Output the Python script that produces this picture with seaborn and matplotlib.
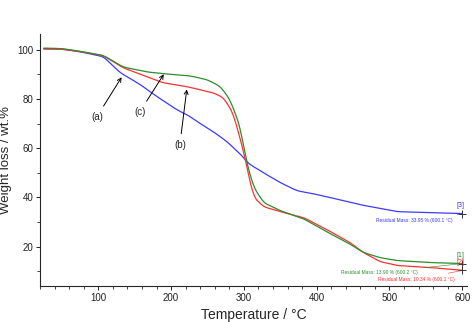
import numpy as np
import pandas as pd
import matplotlib.pyplot as plt
import seaborn as sns
from matplotlib.ticker import MultipleLocator

# TGA curves
temp_a = [25, 50, 75, 107, 130, 158, 167, 181, 208, 222, 236, 258, 277, 299, 305, 327,
          350, 373, 395, 419, 460, 511, 556, 600]
mass_a = [100.5, 100.3, 99.2, 97.2, 90.7, 85.8, 83.8, 80.9, 75.6, 73.6, 70.8, 66.7, 62.6,
          56.5, 54.0, 50.0, 46.0, 42.7, 41.5, 39.9, 37.0, 34.2, 33.8, 33.4]

temp_b = [25, 50, 75, 107, 134, 167, 189, 222, 258, 272, 285, 299, 313, 327, 350, 382,
          414, 446, 464, 487, 511, 533, 556, 600]
mass_b = [100.3, 100.2, 99.3, 97.6, 92.7, 89.0, 86.6, 85.0, 82.5, 80.5, 74.4, 59.4, 40.3,
          36.2, 34.2, 31.8, 26.9, 21.6, 17.6, 13.9, 12.3, 11.9, 11.5, 10.3]

temp_c = [25, 50, 75, 107, 134, 167, 189, 226, 250, 268, 281, 295, 302, 313, 327, 350,
          382, 414, 446, 464, 487, 511, 556, 600]
mass_c = [100.7, 100.5, 99.4, 97.7, 93.0, 91.0, 90.3, 89.4, 87.8, 85.0, 79.7, 68.7, 56.5,
          44.4, 37.9, 34.6, 31.3, 26.0, 21.0, 17.6, 15.5, 14.3, 13.5, 13.1]

residual_labels = ["Residual Mass: 33.95 % (600.1 °C)",
                   "Residual Mass: 13.90 % (600.2 °C)",
                   "Residual Mass: 10.34 % (600.1 °C)"]

df = pd.concat([
    pd.DataFrame({"T": temp_a, "W": mass_a, "sample": "a"}),
    pd.DataFrame({"T": temp_b, "W": mass_b, "sample": "b"}),
    pd.DataFrame({"T": temp_c, "W": mass_c, "sample": "c"}),
])

# smooth the read points a little so the curves look like instrument traces
rows = []
for s, g in df.groupby("sample"):
    t = np.linspace(g["T"].min(), g["T"].max(), 600)
    rows.append(pd.DataFrame({"T": t, "W": np.interp(t, g["T"], g["W"]), "sample": s}))
smooth = pd.concat(rows)
smooth["W"] = smooth.groupby("sample")["W"].transform(
    lambda w: w.rolling(11, center=True, min_periods=1).mean())

sns.set_style("ticks")
plt.rcParams["font.family"] = ["Liberation Sans", "DejaVu Sans"]

fig = plt.figure(figsize=(4.72, 3.22), dpi=100)
ax = fig.add_axes([0.085, 0.112, 0.905, 0.783])

palette = {"a": "#3b3bff", "b": "#ff3030", "c": "#2e8b2e"}
sns.lineplot(data=smooth, x="T", y="W", hue="sample", palette=palette,
             linewidth=0.9, legend=False, ax=ax, sort=False)

ax.set_xlim(20, 607)
ax.set_ylim(4, 106.5)
ax.xaxis.set_major_locator(MultipleLocator(100))
ax.xaxis.set_minor_locator(MultipleLocator(20))
ax.yaxis.set_major_locator(MultipleLocator(20))
ax.yaxis.set_minor_locator(MultipleLocator(10))
ax.tick_params(which="major", length=3, width=0.7, labelsize=7, pad=2, colors="#222222")
ax.tick_params(which="minor", length=2, width=0.6)
for sp in ["left", "bottom"]:
    ax.spines[sp].set_linewidth(0.8)
sns.despine(ax=ax)

ax.set_xlabel("Temperature / °C", fontsize=10, labelpad=4)
ax.set_ylabel("Weight loss / wt.%", fontsize=9.5)
ax.yaxis.set_label_coords(-0.066, 0.5)

# sample labels with arrows
arrow = dict(arrowstyle="->", color="black", lw=0.7)
ax.annotate("(a)", xy=(134, 89.8), xytext=(98, 72.8), fontsize=7, ha="center", va="center",
            arrowprops=arrow)
ax.annotate("(c)", xy=(192, 91.0), xytext=(157, 74.8), fontsize=7, ha="center", va="center",
            arrowprops=arrow)
ax.annotate("(b)", xy=(222, 85.0), xytext=(212, 61.4), fontsize=7, ha="center", va="center",
            arrowprops=arrow)

# end markers and residual mass notes
ends = [(mass_a[-1], "[3]", palette["a"], residual_labels[0], (534, 30.6)),
        (mass_c[-1], "[1]", palette["c"], residual_labels[1], (486, 9.4)),
        (mass_b[-1], "[2]", palette["b"], residual_labels[2], (537, 6.6))]
for w, tag, col, txt, pos in ends:
    ax.plot([600], [w], marker="+", color="#333333", markersize=6, mew=0.7)
    ax.text(598, w + 1.8, tag, color=col, fontsize=5, ha="center", va="bottom")
    ax.annotate(txt, xy=(600, w), xytext=pos, color=col, fontsize=3.5, ha="center",
                va="center", arrowprops=dict(arrowstyle="-", color=col, lw=0.4))

fig.savefig("out.png", dpi=100)
